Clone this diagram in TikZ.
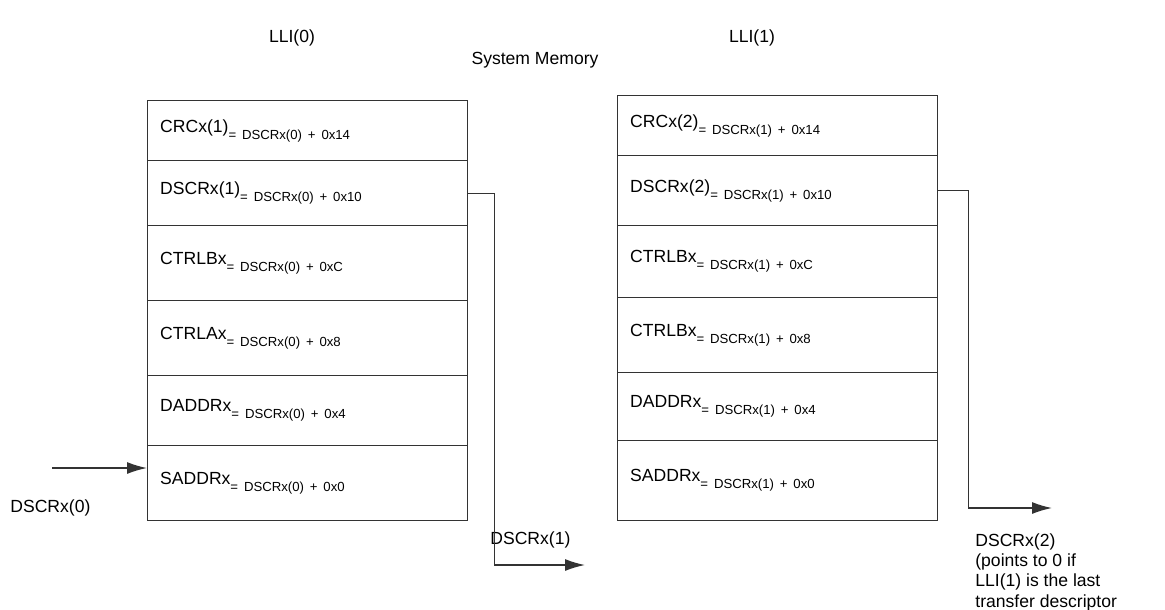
\documentclass[tikz,border=0pt]{standalone}
\usepackage{fontspec}
\setmainfont{Liberation Sans}
\usetikzlibrary{arrows.meta,positioning}
\newcommand{\ofs}[1]{\raisebox{-4pt}{\fontsize{7.5}{8}\selectfont #1}}
\begin{document}
\begin{tikzpicture}[x=0.02cm,y=-0.02cm, font=\fontsize{10}{12}\selectfont]
	\tikzstyle{row}=[draw=black!80, thick, minimum width=6.4cm, text width=5.9cm, align=left, anchor=north west, inner sep=0pt]
	\tikzstyle{connect}=[-{Latex[length=4mm,width=2.4mm]}, thick, black!80]
	\tikzstyle{lbl}=[inner sep=0pt]
	\useasboundingbox (0,0) rectangle (1165,609);

	\node[lbl] (lli0) at (292,38) {LLI(0)};
	\node[lbl] (lli1) at (752,38) {LLI(1)};
	\node[lbl] (sysmem) at (535,60) {System Memory};

	% first descriptor
	\node[row, minimum height=1.2cm] (crcA) at (147,100) {CRCx(1)\ofs{= DSCRx(0) + 0x14}};
	\node[row, minimum height=1.3cm] (dscrA) at (147,160) {DSCRx(1)\ofs{= DSCRx(0) + 0x10}};
	\node[row, minimum height=1.5cm] (ctrlbA) at (147,225) {CTRLBx\ofs{= DSCRx(0) + 0xC}};
	\node[row, minimum height=1.5cm] (ctrlaA) at (147,300) {CTRLAx\ofs{= DSCRx(0) + 0x8}};
	\node[row, minimum height=1.4cm] (daddrA) at (147,375) {DADDRx\ofs{= DSCRx(0) + 0x4}};
	\node[row, minimum height=1.5cm] (saddrA) at (147,445) {SADDRx\ofs{= DSCRx(0) + 0x0}};

	% second descriptor
	\node[row, minimum height=1.2cm] (crcB) at (617,95) {CRCx(2)\ofs{= DSCRx(1) + 0x14}};
	\node[row, minimum height=1.4cm] (dscrB) at (617,155) {DSCRx(2)\ofs{= DSCRx(1) + 0x10}};
	\node[row, minimum height=1.44cm] (ctrlbB) at (617,225) {CTRLBx\ofs{= DSCRx(1) + 0xC}};
	\node[row, minimum height=1.5cm] (ctrlaB) at (617,297) {CTRLBx\ofs{= DSCRx(1) + 0x8}};
	\node[row, minimum height=1.36cm] (daddrB) at (617,372) {DADDRx\ofs{= DSCRx(1) + 0x4}};
	\node[row, minimum height=1.6cm] (saddrB) at (617,440) {SADDRx\ofs{= DSCRx(1) + 0x0}};

	\coordinate (inA) at (52,468);
	\coordinate (outA) at (585,565);
	\coordinate (outB) at (1052,508);

	\node[lbl, anchor=west] (ptr0) at (10,508) {DSCRx(0)};
	\node[lbl, anchor=west] (ptr1) at (490,540) {DSCRx(1)};
	\node[lbl, anchor=north west, align=left, font=\fontsize{10}{11.6}\selectfont] (ptr2) at (975,533) {DSCRx(2)\\(points to 0 if\\LLI(1) is the last\\transfer descriptor};

	\draw[connect] (inA) -- (saddrA.west |- inA);
	\draw[connect] (dscrA.east) -- ++(26,0) |- (outA);
	\draw[connect] (dscrB.east) -- ++(30,0) |- (outB);
\end{tikzpicture}
\end{document}
